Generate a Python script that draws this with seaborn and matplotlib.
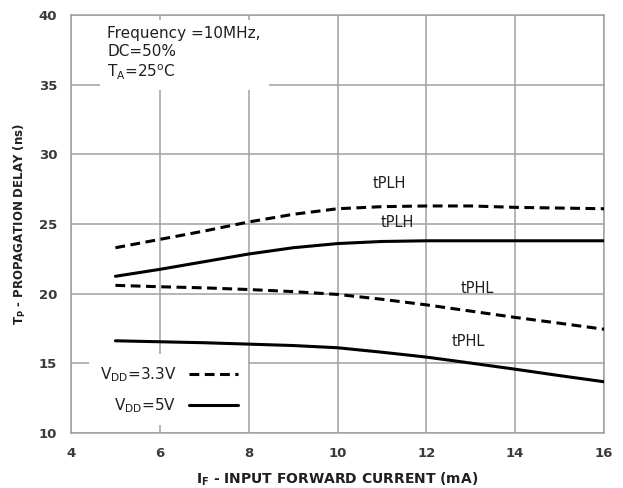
import matplotlib
matplotlib.use("Agg")
import matplotlib.pyplot as plt
import pandas as pd
import seaborn as sns
from matplotlib.lines import Line2D

# input forward current (mA)
current = [5, 6, 7, 8, 9, 10, 11, 12, 13, 14, 15, 16]

# propagation delay (ns)
tplh_33v = [23.3, 23.9, 24.5, 25.15, 25.7, 26.1, 26.25, 26.3, 26.3, 26.2, 26.15, 26.1]
tplh_5v = [21.25, 21.75, 22.3, 22.85, 23.3, 23.6, 23.75, 23.8, 23.8, 23.8, 23.8, 23.8]
tphl_33v = [20.6, 20.5, 20.42, 20.3, 20.15, 19.95, 19.6, 19.2, 18.75, 18.3, 17.88, 17.45]
tphl_5v = [16.62, 16.55, 16.48, 16.38, 16.28, 16.12, 15.8, 15.45, 15.02, 14.58, 14.12, 13.68]

x_ticks = [4, 6, 8, 10, 12, 14, 16]
y_ticks = [10, 15, 20, 25, 30, 35, 40]

series = {
    ("3.3V", "tPLH"): tplh_33v,
    ("5V", "tPLH"): tplh_5v,
    ("3.3V", "tPHL"): tphl_33v,
    ("5V", "tPHL"): tphl_5v,
}

rows = []
for (vdd, kind), vals in series.items():
    for x, y in zip(current, vals):
        rows.append({"current": x, "delay": y, "vdd": vdd, "kind": kind})
df = pd.DataFrame(rows)

sns.set_style("white")
plt.rcParams["font.family"] = ["DejaVu Sans"]
plt.rcParams["mathtext.default"] = "regular"

fig = plt.figure(figsize=(6.23, 4.88), dpi=100)
ax = fig.add_axes([0.114, 0.1127, 0.8555, 0.8563])

dash = (3.2, 1.8)
for (vdd, kind), sub in df.groupby(["vdd", "kind"]):
    ls = (0, dash) if vdd == "3.3V" else "-"
    sns.lineplot(data=sub, x="current", y="delay", ax=ax, color="black",
                 linewidth=2.2, linestyle=ls, legend=False, zorder=3)

ax.set_xlim(4, 16)
ax.set_ylim(10, 40)
ax.set_xticks(x_ticks)
ax.set_yticks(y_ticks)
ax.grid(True, color="#a0a0a0", linewidth=1.1, zorder=0)
ax.set_axisbelow(True)
for s in ax.spines.values():
    s.set_color("#a0a0a0")
    s.set_linewidth(1.1)
ax.tick_params(length=0, labelsize=9.5, labelcolor="#3a3a3a", pad=10)
for lab in ax.get_xticklabels() + ax.get_yticklabels():
    lab.set_fontweight("bold")

ax.set_xlabel("I$_F$ - INPUT FORWARD CURRENT (mA)", fontsize=10, fontweight="bold",
              color="#202020", labelpad=8)
ax.set_ylabel("T$_P$ - PROPAGATION DELAY (ns)", fontsize=8.5, fontweight="bold",
              color="#202020", labelpad=8)

ax.text(4.82, 39.2, "Frequency =10MHz,\nDC=50%\nT$_A$=25$^o$C", fontsize=11,
        va="top", ha="left", linespacing=1.25, color="#202020",
        bbox=dict(boxstyle="square,pad=0.5", facecolor="white", edgecolor="none"),
        zorder=4)

ax.text(11.16, 27.9, "tPLH", fontsize=10.5, ha="center", va="center", color="#202020")
ax.text(11.34, 25.1, "tPLH", fontsize=10.5, ha="center", va="center", color="#202020",
        zorder=2)
ax.text(13.14, 20.4, "tPHL", fontsize=10.5, ha="center", va="center", color="#202020")
ax.text(12.94, 16.6, "tPHL", fontsize=10.5, ha="center", va="center", color="#202020")

handles = [
    Line2D([0], [0], color="black", linewidth=2.2, linestyle=(0, dash)),
    Line2D([0], [0], color="black", linewidth=2.2),
]
leg = ax.legend(handles, ["V$_{DD}$=3.3V", "V$_{DD}$=5V"], loc="lower left",
                bbox_to_anchor=(0.02, 0.0), markerfirst=False, frameon=True,
                fontsize=11, handlelength=3.2, labelspacing=0.8,
                fancybox=False, borderpad=0.7)
leg.get_frame().set_facecolor("white")
leg.get_frame().set_edgecolor("none")
leg.get_frame().set_alpha(1)
for t in leg.get_texts():
    t.set_color("#202020")

fig.savefig("out.png", dpi=100)
